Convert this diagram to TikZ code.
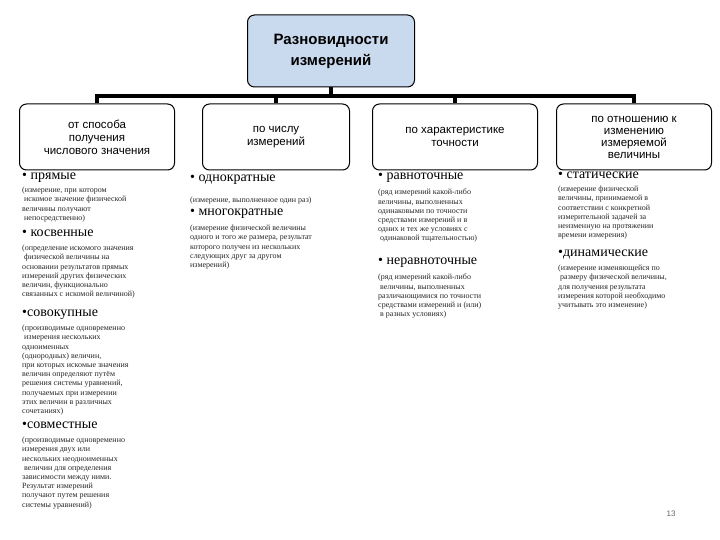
\documentclass[tikz,border=0pt]{standalone}
\usepackage{fontspec}
\setmainfont{Liberation Serif}
\newfontfamily\hdr{Liberation Sans}
\begin{document}
\begin{tikzpicture}[x=1pt,y=-1pt,
  box/.style={draw=black,line width=1pt,rounded corners=7pt,align=center,font=\hdr\fontsize{11.5}{13}\selectfont,inner sep=2pt},
  conn/.style={line width=3.5pt},
  head/.style={anchor=north west,inner sep=0pt,font=\fontsize{14}{14}\selectfont},
  desc/.style={anchor=north west,inner sep=0pt,align=left,font=\fontsize{8}{9.2}\selectfont,text=black!85}]
\useasboundingbox (0,0) rectangle (720,540);
\node[box,fill={rgb,255:red,201;green,217;blue,238},minimum width=167pt,minimum height=72pt,font=\hdr\bfseries\fontsize{15}{21}\selectfont] (top) at (331,51) {Разновидности\\измерений};
\node[box,minimum width=155pt,minimum height=66pt] (b1) at (97,137) {от способа\\получения\\числового значения};
\node[box,minimum width=147pt,minimum height=66pt] (b2) at (276,137) {по числу\\измерений};
\node[box,minimum width=165pt,minimum height=66pt] (b3) at (455,137) {по характеристике\\точности};
\node[box,minimum width=155pt,minimum height=66pt,font=\hdr\fontsize{11.5}{12}\selectfont] (b4) at (634,137) {по отношению к\\изменению\\измеряемой\\величины};
\coordinate (j) at (331,96);
\draw[conn] (top.south) -- (j);
\draw[conn] (b1.north) |- (j) -| (b4.north);
\draw[conn] (b2.north) -- (b2.north |- j);
\draw[conn] (b3.north) -- (b3.north |- j);
% column 1
\node[head] (h11) at (22,173) {• прямые};
\node[desc] (d11) at (22,187) {(измерение, при котором\\ \ искомое значение физической\\величины получают\\ \ непосредственно)};
\node[head] (h12) at (22,230) {• косвенные};
\node[desc] (d12) at (22,245) {(определение искомого значения\\ \ физической величины на\\основании результатов прямых\\измерений других физических\\величин, функционально\\связанных с искомой величиной)};
\node[head] (h13) at (22,310) {•совокупные};
\node[desc] (d13) at (22,325) {(производимые одновременно\\ \ измерения нескольких\\одноименных\\(однородных) величин,\\при которых искомые значения\\величин определяют путём\\решения системы уравнений,\\получаемых при измерении\\этих величин в различных\\сочетаниях)};
\node[head] (h14) at (22,422) {•совместные};
\node[desc] (d14) at (22,437) {(производимые одновременно\\измерения двух или\\нескольких неодноименных\\ \ величин для определения\\зависимости между ними.\\Результат измерений\\получают путем решения\\системы уравнений)};
% column 2
\node[head] (h21) at (190,175) {• однократные};
\node[desc] (d21) at (190,197) {(измерение, выполненное один раз)};
\node[head] (h22) at (190,209) {• многократные};
\node[desc] (d22) at (190,225) {(измерение физической величины\\одного и того же размера, результат\\которого получен из нескольких\\следующих друг за другом\\измерений)};
% column 3
\node[head] (h31) at (378,173) {• равноточные};
\node[desc] (d31) at (378,189) {(ряд измерений какой-либо\\величины, выполненных\\одинаковыми по точности\\средствами измерений и в\\одних и тех же условиях с\\ \ одинаковой тщательностью)};
\node[head] (h32) at (378,258) {• неравноточные};
\node[desc] (d32) at (378,274) {(ряд измерений какой-либо\\ \ величины, выполненных\\различающимися по точности\\средствами измерений и (или)\\ \ в разных условиях)};
% column 4
\node[head] (h41) at (558,172) {• статические};
\node[desc] (d41) at (558,186) {(измерение физической\\величины, принимаемой в\\соответствии с конкретной\\измерительной задачей за\\неизменную на протяжении\\времени измерения)};
\node[head] (h42) at (558,250) {•динамические};
\node[desc] (d42) at (558,265) {(измерение изменяющейся по\\ \ размеру физической величины,\\для получения результата\\измерения которой необходимо\\учитывать это изменение)};
\node[font=\hdr\fontsize{8}{9}\selectfont,text=black!60] (pg) at (671,514) {13};
\end{tikzpicture}
\end{document}
